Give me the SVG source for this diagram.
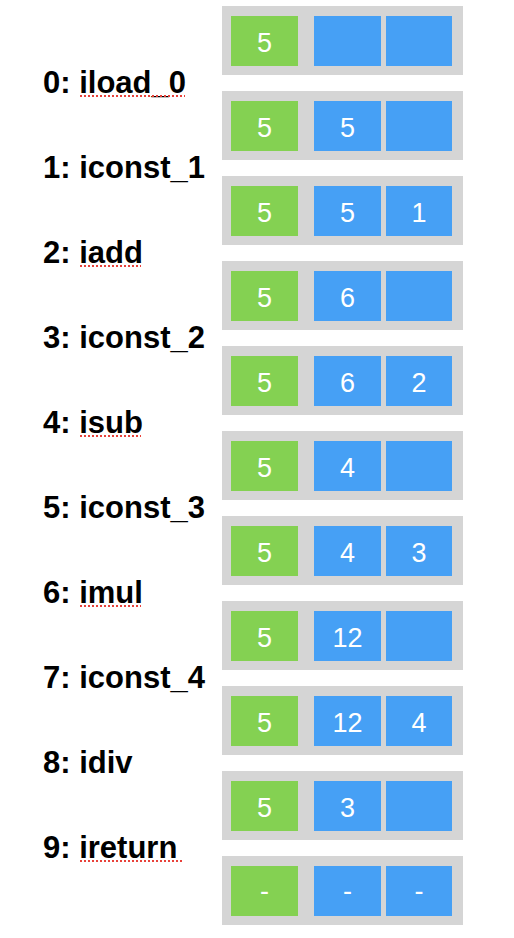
<svg xmlns="http://www.w3.org/2000/svg" width="514" height="938" viewBox="0 0 514 938">
<style>
.frame{fill:#d5d5d5}
.g{fill:#84d152}
.b{fill:#46a0f5}
.v{font-family:"Liberation Sans",Arial,sans-serif;font-size:27px;fill:#fff;text-anchor:middle}
.lbl{font-family:"Liberation Sans",Arial,sans-serif;font-size:31px;font-weight:bold;fill:#000}
.sp{stroke:#e8413a;stroke-width:2;stroke-dasharray:2 2;fill:none}
</style>
<defs>
<g id="frame3">
<rect class="frame" x="222" y="0" width="241" height="69"/>
<rect class="g" x="231" y="10" width="67" height="50"/>
<rect class="b" x="314" y="10" width="67" height="50"/>
<rect class="b" x="386" y="10" width="66" height="50"/>
</g>
</defs>
<rect width="514" height="938" fill="#fff"/>
<g id="state0" transform="translate(0,6)"><use href="#frame3"/><text class="v" x="264.5" y="46">5</text></g>
<g id="state1" transform="translate(0,91)"><use href="#frame3"/><text class="v" x="264.5" y="46">5</text><text class="v" x="347.5" y="46">5</text></g>
<g id="state2" transform="translate(0,176)"><use href="#frame3"/><text class="v" x="264.5" y="46">5</text><text class="v" x="347.5" y="46">5</text><text class="v" x="419" y="46">1</text></g>
<g id="state3" transform="translate(0,261)"><use href="#frame3"/><text class="v" x="264.5" y="46">5</text><text class="v" x="347.5" y="46">6</text></g>
<g id="state4" transform="translate(0,346)"><use href="#frame3"/><text class="v" x="264.5" y="46">5</text><text class="v" x="347.5" y="46">6</text><text class="v" x="419" y="46">2</text></g>
<g id="state5" transform="translate(0,431)"><use href="#frame3"/><text class="v" x="264.5" y="46">5</text><text class="v" x="347.5" y="46">4</text></g>
<g id="state6" transform="translate(0,516)"><use href="#frame3"/><text class="v" x="264.5" y="46">5</text><text class="v" x="347.5" y="46">4</text><text class="v" x="419" y="46">3</text></g>
<g id="state7" transform="translate(0,601)"><use href="#frame3"/><text class="v" x="264.5" y="46">5</text><text class="v" x="347.5" y="46">12</text></g>
<g id="state8" transform="translate(0,686)"><use href="#frame3"/><text class="v" x="264.5" y="46">5</text><text class="v" x="347.5" y="46">12</text><text class="v" x="419" y="46">4</text></g>
<g id="state9" transform="translate(0,771)"><use href="#frame3"/><text class="v" x="264.5" y="46">5</text><text class="v" x="347.5" y="46">3</text></g>
<g id="state10" transform="translate(0,856)"><use href="#frame3"/><text class="v" x="264.5" y="44">-</text><text class="v" x="347.5" y="44">-</text><text class="v" x="419" y="44">-</text></g>
<g id="labels">
<text class="lbl" x="43" y="93">0: iload_0</text>
<line class="sp" x1="80" y1="96" x2="185" y2="96"/>
<text class="lbl" x="43" y="178">1: iconst_1</text>
<text class="lbl" x="43" y="263">2: iadd</text>
<line class="sp" x1="80" y1="266" x2="141" y2="266"/>
<text class="lbl" x="43" y="348">3: iconst_2</text>
<text class="lbl" x="43" y="433">4: isub</text>
<line class="sp" x1="80" y1="436" x2="141" y2="436"/>
<text class="lbl" x="43" y="518">5: iconst_3</text>
<text class="lbl" x="43" y="603">6: imul</text>
<line class="sp" x1="80" y1="606" x2="141" y2="606"/>
<text class="lbl" x="43" y="688">7: iconst_4</text>
<text class="lbl" x="43" y="773">8: idiv</text>
<text class="lbl" x="43" y="858">9: ireturn</text>
<line class="sp" x1="80" y1="861" x2="182" y2="861"/>
</g>
<g id="connectors"/>
</svg>
